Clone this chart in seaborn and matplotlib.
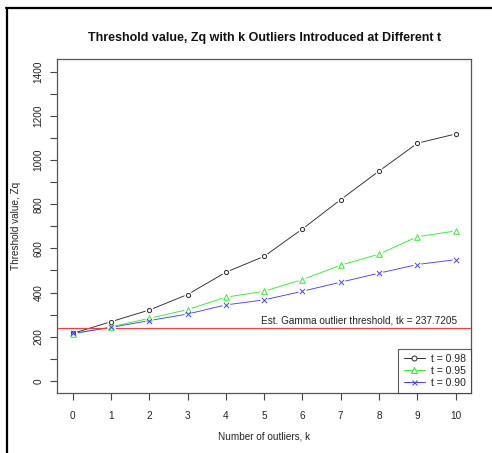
import matplotlib
matplotlib.use("Agg")
import matplotlib.pyplot as plt
from matplotlib.lines import Line2D
import seaborn as sns
import pandas as pd

# Number of outliers introduced
k_values = [0, 1, 2, 3, 4, 5, 6, 7, 8, 9, 10]

# Threshold value Zq for each t
zq_t098 = [215, 268, 321, 391, 492, 564, 688, 821, 950, 1076, 1118]
zq_t095 = [212, 245, 283, 323, 379, 406, 459, 524, 574, 653, 679]
zq_t090 = [215, 242, 273, 303, 344, 367, 406, 447, 488, 527, 549]

series_labels = ["t = 0.98", "t = 0.95", "t = 0.90"]
gamma_threshold = 237.7205

y_ticks = list(range(0, 1500, 100))
y_tick_labels = [str(v) if v % 200 == 0 else "" for v in y_ticks]

sns.set_theme(style="white")
plt.rcParams["font.family"] = ["Liberation Sans", "DejaVu Sans"]

df = pd.DataFrame({
    "k": k_values * 3,
    "zq": zq_t098 + zq_t095 + zq_t090,
    "t": [series_labels[0]] * 11 + [series_labels[1]] * 11 + [series_labels[2]] * 11,
})

colors = {"t = 0.98": "#2a2a2a", "t = 0.95": "#33ee33", "t = 0.90": "#4444ff"}
markers = {"t = 0.98": "o", "t = 0.95": "^", "t = 0.90": "x"}
sizes = {"t = 0.98": 9, "t = 0.95": 16, "t = 0.90": 14}

fig = plt.figure(figsize=(4.92, 4.53), dpi=100)
ax = fig.add_axes([0.1165, 0.1318, 0.8408, 0.7373])

sns.lineplot(data=df, x="k", y="zq", hue="t", palette=colors, ax=ax,
             linewidth=0.65, legend=False, sort=False)

# open gaps around each point, then the point symbols
for lab in series_labels:
    sub = df[df["t"] == lab]
    ax.scatter(sub["k"], sub["zq"], s=34, color="white", zorder=3, linewidths=0)
    if markers[lab] == "x":
        ax.scatter(sub["k"], sub["zq"], s=sizes[lab], marker="x", color=colors[lab],
                   linewidths=0.7, zorder=4)
    else:
        ax.scatter(sub["k"], sub["zq"], s=sizes[lab], marker=markers[lab],
                   facecolors="white", edgecolors=colors[lab],
                   linewidths=0.7, zorder=4)

ax.axhline(gamma_threshold, color="#ff3b3b", linewidth=0.8, zorder=2)
ax.text(7.48, 273, f"Est. Gamma outlier threshold, tk = {gamma_threshold}",
        ha="center", va="center", fontsize=7.2, color="#222222")

ax.set_xlim(-0.4, 10.4)
ax.set_ylim(-56, 1456)
ax.set_xticks(k_values)
ax.set_xticklabels([str(v) for v in k_values])
ax.set_yticks(y_ticks)
ax.set_yticklabels(y_tick_labels, rotation=90, va="center")
ax.tick_params(axis="both", direction="out", length=5, width=0.8,
               color="#444444", labelsize=7.2, labelcolor="#222222",
               bottom=True, left=True)
ax.tick_params(axis="x", pad=8)
ax.tick_params(axis="y", pad=5)
for sp in ax.spines.values():
    sp.set_color("#555555")
    sp.set_linewidth(0.9)

ax.set_xlabel("Number of outliers, k", fontsize=7.2, color="#222222", labelpad=7)
ax.set_ylabel("Threshold value, Zq", fontsize=7.2, color="#222222", labelpad=9)
ax.set_title("Threshold value, Zq with k Outliers Introduced at Different t",
             fontsize=9.0, fontweight="bold", color="#111111", pad=13)

handles = [Line2D([0], [0], color=colors[lab], marker=markers[lab], lw=0.7,
                  markersize=3.6 if markers[lab] != "^" else 4.2,
                  markerfacecolor="white" if markers[lab] != "x" else colors[lab],
                  markeredgecolor=colors[lab], markeredgewidth=0.7)
           for lab in series_labels]
leg = ax.legend(handles, series_labels, loc="lower right", borderaxespad=0,
                fontsize=7.5, frameon=True, fancybox=False, handlelength=2.0,
                handletextpad=0.6, labelspacing=0.2, borderpad=0.5)
leg.get_frame().set_edgecolor("#333333")
leg.get_frame().set_linewidth(0.8)
for t in leg.get_texts():
    t.set_color("#222222")

# outer frame along the top and left edges
fig.add_artist(Line2D([6 / 492, 1.0], [1 - 8 / 453, 1 - 8 / 453],
                      transform=fig.transFigure, color="black", lw=1.6))
fig.add_artist(Line2D([7 / 492, 7 / 492], [0.0, 1 - 8 / 453],
                      transform=fig.transFigure, color="black", lw=1.6))

fig.savefig("out.png", dpi=100)
